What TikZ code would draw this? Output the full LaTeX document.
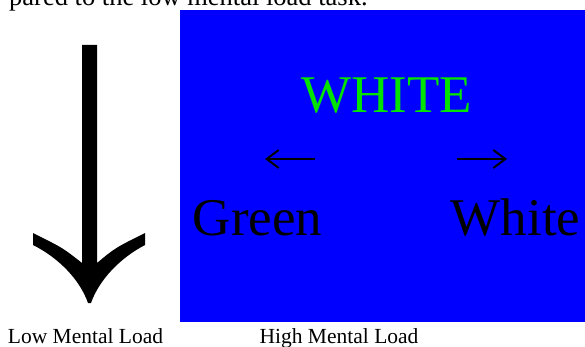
\documentclass[tikz,border=0pt]{standalone}
\usepackage{fontspec}
\setmainfont{Liberation Serif}
\usetikzlibrary{arrows.meta}
\definecolor{stroopblue}{RGB}{0,0,255}
\definecolor{stroopgreen}{RGB}{0,228,0}
\tikzset{
  caption/.style={font=\fontsize{21.5}{24}\selectfont, anchor=base, inner sep=0pt},
  word/.style={font=\fontsize{53}{60}\selectfont, anchor=base, inner sep=0pt},
  pointer/.style={line width=2pt, -{Straight Barb[length=12pt,width=18pt,line width=2pt]}}
}
\begin{document}
\begin{tikzpicture}[x=1pt,y=-1pt]
      \useasboundingbox (0,0) rectangle (585,347);
      % cut-off line of the running text
      \node[font=\fontsize{26.5}{30}\selectfont, anchor=base west, inner sep=0pt] (txt) at (9,6) {pared to the low mental load task.};
      % low load: one big arrow
      \fill (82,45) -- (97,45) -- (97,263)
        .. controls (115,248) .. (145,233) -- (145,245)
        .. controls (120,258) and (99,280) .. (91,303) -- (88,303)
        .. controls (80,280) and (59,258) .. (33,245) -- (33,233)
        .. controls (63,248) .. (82,263) -- cycle;
      % high load: stroop screen
      \fill[stroopblue] (180,10) rectangle (585,322);
      \node[word, text=stroopgreen] (ink) at (387,113) {WHITE};
      \node[word] (left) at (257.5,235) {Green};
      \node[word] (right) at (515.5,235) {White};
      \coordinate (l0) at (315,159);
      \coordinate (l1) at (265,159);
      \coordinate (r0) at (457,159);
      \coordinate (r1) at (507,159);
      \begin{scope}[pointer]
        \draw (l0) to (l1);
        \draw (r0) to (r1);
      \end{scope}
      \node[caption] (low) at (85.5,343) {Low Mental Load};
      \node[caption] (high) at (339,343) {High Mental Load};
    \end{tikzpicture}
\end{document}
